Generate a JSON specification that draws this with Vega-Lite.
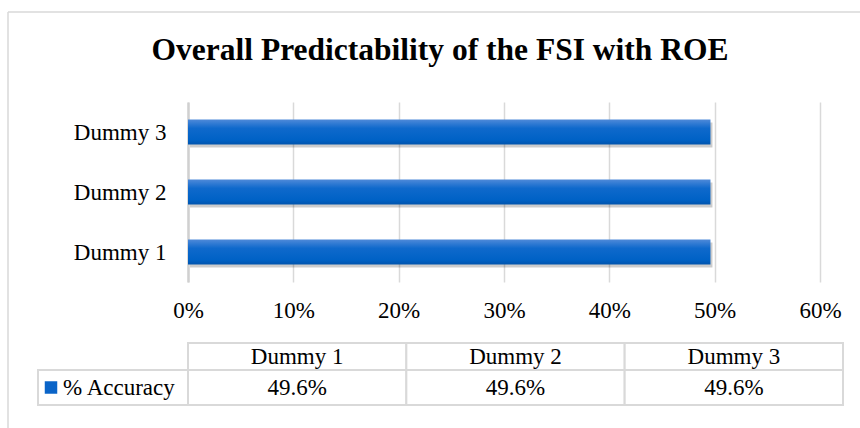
{
  "$schema": "https://vega.github.io/schema/vega-lite/v6.json",
  "autosize": {"type": "none"},
  "padding": {"left": 8, "top": 12, "right": 0, "bottom": 0},
  "width": 852,
  "height": 416,
  "background": "white",
  "config": {
    "view": {"stroke": "#d9d9d9", "strokeWidth": 1.5, "strokeDash": [852, 1268, 416, 0]},
    "font": "Liberation Serif",
    "text": {"font": "Liberation Serif", "fontSize": 23, "color": "#000000"}
  },
  "title": {
    "text": "Overall Predictability of the FSI with ROE",
    "font": "Liberation Serif",
    "fontSize": 31.5,
    "fontWeight": "bold",
    "color": "#000000",
    "anchor": "middle",
    "frame": "group",
    "offset": -54,
    "dx": 6
  },
  "data": {
    "values": [
      {"category": "Dummy 1", "accuracy": 0.496},
      {"category": "Dummy 2", "accuracy": 0.496},
      {"category": "Dummy 3", "accuracy": 0.496}
    ]
  },
  "layer": [
    {
      "encoding": {
        "x": {
          "field": "accuracy",
          "type": "quantitative",
          "scale": {"domain": [0, 0.6], "nice": false, "zero": true, "range": [180, 812]},
          "axis": {
            "orient": "top",
            "offset": -318,
            "values": [0, 0.1, 0.2, 0.3, 0.4, 0.5, 0.6],
            "format": ".0%",
            "domain": false,
            "ticks": false,
            "tickSize": 0,
            "grid": true,
            "gridColor": "#d9d9d9",
            "gridWidth": 1.5,
            "labelFlush": false,
            "labelAlign": "center",
            "labelFont": "Liberation Serif",
            "labelFontSize": 23,
            "labelColor": "#000000",
            "labelBaseline": "alphabetic",
            "labelPadding": 13,
            "title": null
          }
        },
        "y": {
          "field": "category",
          "type": "nominal",
          "scale": {"domain": ["Dummy 3", "Dummy 2", "Dummy 1"], "range": [90, 270], "paddingInner": 0.58},
          "axis": {
            "orient": "left",
            "offset": -180,
            "domain": true,
            "domainColor": "#d0d0d0",
            "domainWidth": 2.5,
            "ticks": false,
            "tickSize": 0,
            "grid": false,
            "labelFont": "Liberation Serif",
            "labelFontSize": 23,
            "labelColor": "#000000",
            "labelBaseline": "alphabetic",
            "labelOffset": 8,
            "labelPadding": 22,
            "title": null
          }
        }
      },
      "layer": [
        {"mark": {"type": "bar", "color": "#000000", "opacity": 0.2, "xOffset": 2, "yOffset": 3}},
        {
          "mark": {
            "type": "bar",
            "color": {
              "gradient": "linear",
              "x1": 0, "y1": 0, "x2": 0, "y2": 1,
              "stops": [
                {"offset": 0, "color": "#4f8ad9"},
                {"offset": 0.35, "color": "#0f69cc"},
                {"offset": 0.8, "color": "#0062c6"},
                {"offset": 1, "color": "#0054ad"}
              ]
            }
          }
        }
      ]
    },
    {
      "encoding": {
        "x": {
          "field": "category",
          "type": "nominal",
          "scale": {"domain": ["Dummy 1", "Dummy 2", "Dummy 3"], "range": [180, 835], "paddingInner": 0, "paddingOuter": 0},
          "axis": null
        }
      },
      "layer": [
        {
          "encoding": {
            "y": {"datum": "header", "type": "nominal", "scale": {"domain": ["header"], "range": [331, 358], "paddingInner": 0, "paddingOuter": 0}, "axis": null}
          },
          "layer": [
            {"mark": {"type": "rect", "fill": "white", "stroke": "#d9d9d9", "strokeWidth": 2}},
            {"mark": {"type": "text", "align": "center", "baseline": "middle", "fontSize": 23}, "encoding": {"text": {"field": "category"}}}
          ]
        },
        {
          "encoding": {
            "y": {"datum": "value", "type": "nominal", "scale": {"domain": ["value"], "range": [358, 393], "paddingInner": 0, "paddingOuter": 0}, "axis": null}
          },
          "layer": [
            {"mark": {"type": "rect", "fill": "white", "stroke": "#d9d9d9", "strokeWidth": 2}},
            {"mark": {"type": "text", "align": "center", "baseline": "middle", "fontSize": 23}, "encoding": {"text": {"field": "accuracy", "format": ".1%"}}}
          ]
        }
      ],
      "resolve": {"scale": {"y": "independent"}}
    },
    {
      "transform": [{"aggregate": [{"op": "count", "as": "n"}]}],
      "encoding": {
        "x": {"datum": "label", "type": "nominal", "scale": {"domain": ["label"], "range": [30, 180], "paddingInner": 0, "paddingOuter": 0}, "axis": null},
        "y": {"datum": "value", "type": "nominal", "scale": {"domain": ["value"], "range": [358, 393], "paddingInner": 0, "paddingOuter": 0}, "axis": null}
      },
      "layer": [
        {"mark": {"type": "rect", "fill": "white", "stroke": "#d9d9d9", "strokeWidth": 2}},
        {"mark": {"type": "point", "shape": "square", "filled": true, "size": 156, "color": "#0a64c8", "opacity": 1, "xOffset": -62}},
        {"mark": {"type": "text", "align": "left", "baseline": "middle", "fontSize": 23, "dx": -50}, "encoding": {"text": {"value": "% Accuracy"}}}
      ]
    }
  ],
  "resolve": {"scale": {"x": "independent", "y": "independent"}}
}
